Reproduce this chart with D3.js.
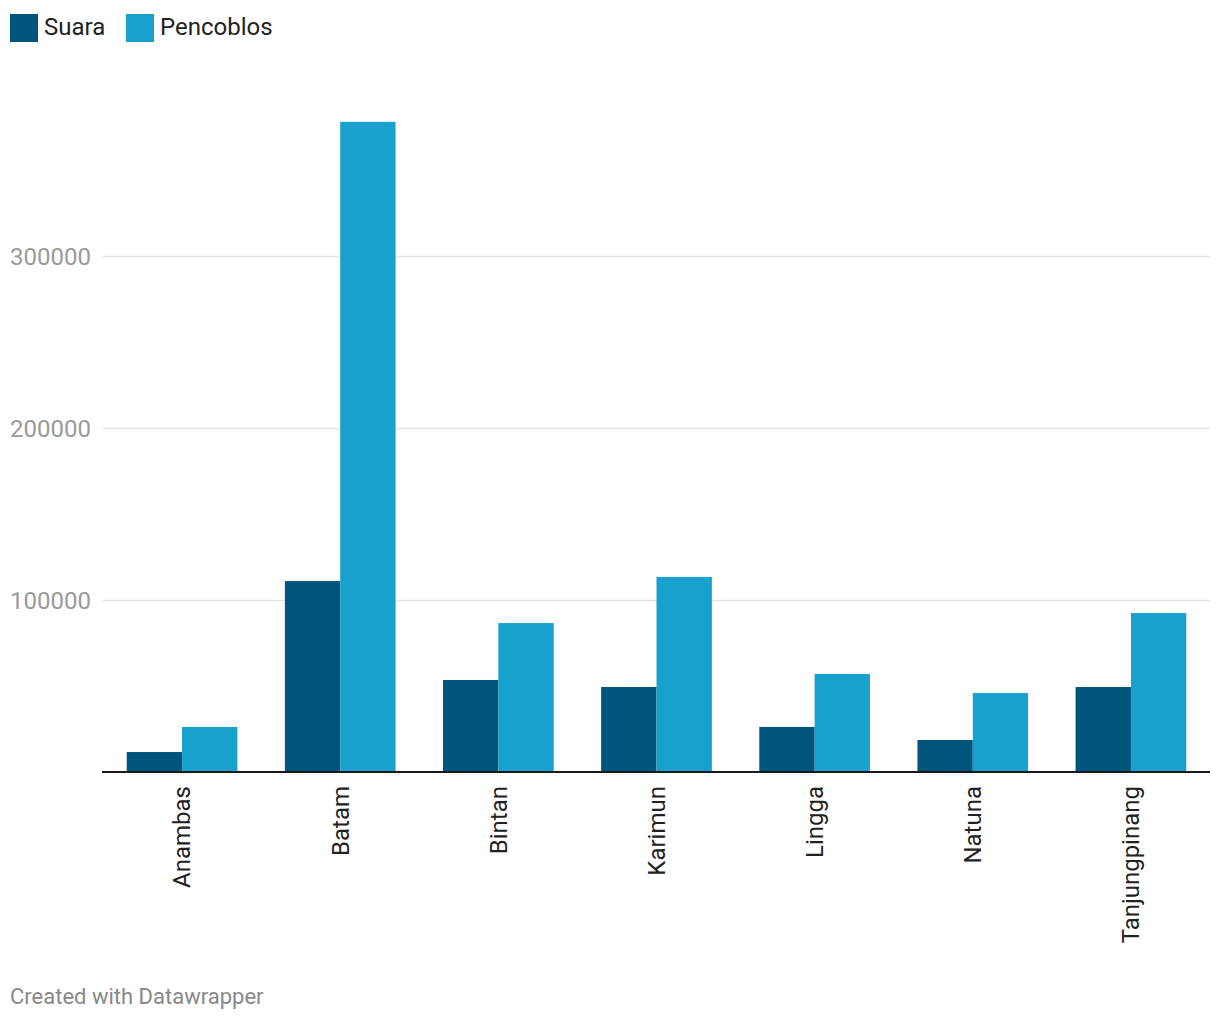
<!DOCTYPE html>
<html><head><meta charset="utf-8">
<script src="https://cdn.jsdelivr.net/npm/d3@7"></script>
<style>body{margin:0;background:#fff;font-family:Roboto,sans-serif;}</style>
</head><body>
<svg id="chart" width="1220" height="1020"></svg>
<script>
const categories = ["Anambas","Batam","Bintan","Karimun","Lingga","Natuna","Tanjungpinang"];
const seriesNames = ["Suara","Pencoblos"];
const suara = [11600, 111000, 53500, 49400, 26200, 18600, 49400];
const pencoblos = [26200, 378000, 86600, 113400, 57000, 45900, 92400];
const yTicks = [100000, 200000, 300000];
const colors = ["#01547c", "#18a1cd"];

const svg = d3.select("#chart");
const y = d3.scaleLinear().domain([0, 100000]).range([772, 600]);
const x = d3.scaleBand().domain(categories).range([103, 1210]).paddingInner(0.3).paddingOuter(0.15);
const xs = d3.scaleBand().domain(seriesNames).range([0, x.bandwidth()]);

// gridlines
const yAxis = d3.axisLeft(y).tickValues(yTicks).tickSize(-(1210 - 103)).tickFormat(d3.format("d"));
const gy = svg.append("g").attr("transform", "translate(103,0)").call(yAxis);
gy.select(".domain").remove();
gy.selectAll(".tick line").attr("stroke", "#e3e3e3").attr("stroke-width", 1.5);
gy.selectAll(".tick text").attr("x", -12).attr("text-anchor", "end").attr("dy", "0.35em")
  .attr("fill", "#9a9a9a").style("font-size", "24px").style("font-family", "Roboto");

// bars
const data = categories.map((c, i) => ({c, vals: [suara[i], pencoblos[i]]}));
const groups = svg.append("g").selectAll("g").data(data).join("g")
  .attr("transform", d => `translate(${x(d.c)},0)`);
groups.selectAll("rect").data(d => d.vals.map((v, j) => ({s: seriesNames[j], v, j})))
  .join("rect")
  .attr("x", d => xs(d.s)).attr("width", xs.bandwidth())
  .attr("y", d => y(d.v)).attr("height", d => y(0) - y(d.v))
  .attr("fill", d => colors[d.j]);

// x axis
const xAxis = d3.axisBottom(x).tickSize(0);
const gx = svg.append("g").attr("transform", `translate(0,${y(0)})`).call(xAxis);
gx.select(".domain").attr("stroke", "#1a1a1a").attr("stroke-width", 2).attr("d", "M102,0H1210");
gx.selectAll(".tick text")
  .attr("transform", "rotate(-90)")
  .attr("x", -14).attr("y", 0).attr("dy", "0.35em")
  .attr("text-anchor", "end")
  .attr("fill", "#222").style("font-size", "24px").style("font-family", "Roboto");

// legend
const legendX = [10, 126];
const lg = svg.append("g");
seriesNames.forEach((s, i) => {
  lg.append("rect").attr("x", legendX[i]).attr("y", 14).attr("width", 28).attr("height", 28).attr("fill", colors[i]);
  lg.append("text").attr("x", legendX[i] + 34).attr("y", 35).text(s)
    .attr("fill", "#222").style("font-size", "24px").style("font-family", "Roboto");
});

// footer
svg.append("text").attr("x", 10).attr("y", 1004).text("Created with Datawrapper")
  .attr("fill", "#888").style("font-size", "22px").style("font-family", "Roboto");
</script>
</body></html>
